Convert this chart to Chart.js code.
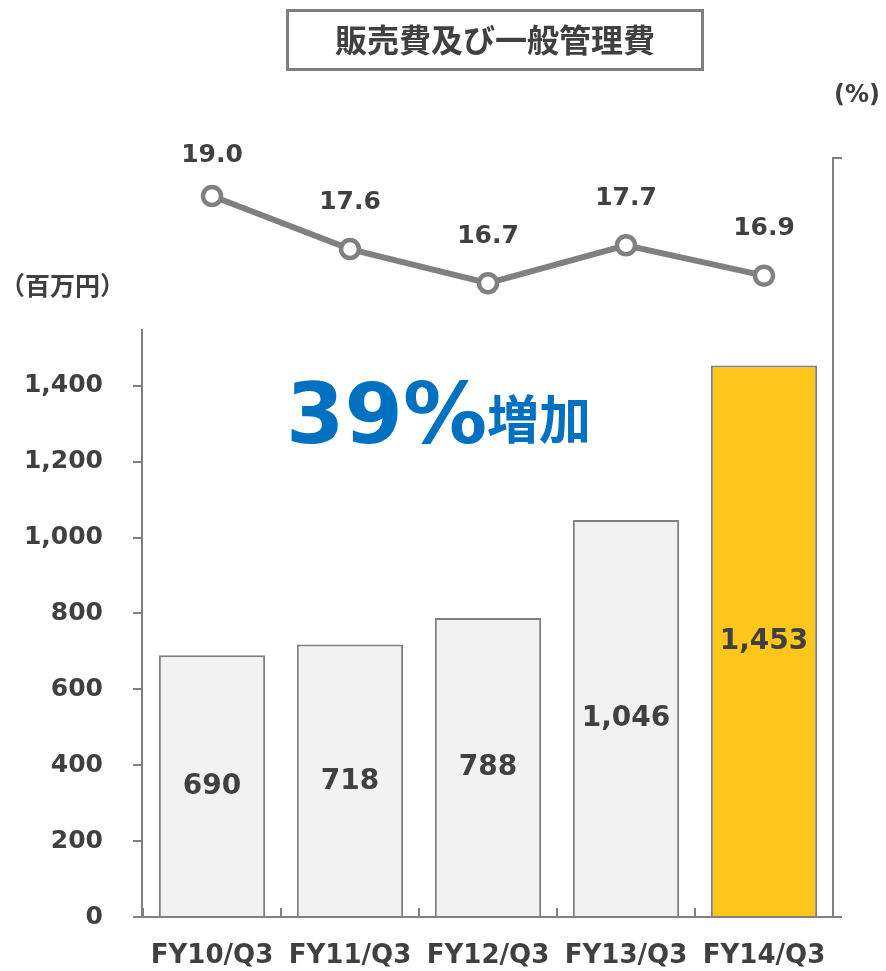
<!DOCTYPE html>
<html>
<head>
<meta charset="utf-8">
<script src="https://cdn.jsdelivr.net/npm/chart.js@4.4.1/dist/chart.umd.min.js"></script>
<style>
  html, body { margin: 0; padding: 0; background: #ffffff; }
  #wrap { position: relative; width: 886px; height: 971px; }
</style>
</head>
<body>
<div id="wrap"><canvas id="c"></canvas></div>
<script>
// ---- data ----
const categories = ['FY10/Q3', 'FY11/Q3', 'FY12/Q3', 'FY13/Q3', 'FY14/Q3'];
const sgaValues = [690, 718, 788, 1046, 1453];          // 百万円
const ratioValues = [19.0, 17.6, 16.7, 17.7, 16.9];     // %
const leftTicks = [0, 200, 400, 600, 800, 1000, 1200, 1400];
const titleText = '販売費及び一般管理費';
const leftUnit = '（百万円）';
const rightUnit = '(%)';
const growthNumber = '39%';
const growthWord = '増加';

const TEXT = '#404040';
const AXIS = '#808080';
const LATIN = '"DejaVu Sans", Verdana, sans-serif';
const CJK = '"Noto Sans CJK JP", "Noto Sans", sans-serif';

const barColors = sgaValues.map((v, i) => i === sgaValues.length - 1 ? '#FFC61B' : '#F2F2F2');

const fmt = v => Number(v).toLocaleString('en-US');

const decorPlugin = {
  id: 'decor',
  afterDraw(chart) {
    const ctx = chart.ctx;
    const yL = chart.scales.y;
    ctx.save();
    // left axis line (drawn only up to 1550)
    ctx.strokeStyle = AXIS;
    ctx.lineWidth = 2;
    ctx.beginPath();
    const ax = Math.round(yL.right) - 1;
    ctx.moveTo(ax, yL.getPixelForValue(0) + 1);
    ctx.lineTo(ax, yL.getPixelForValue(1550));
    ctx.stroke();

    // bar value labels
    const barMeta = chart.getDatasetMeta(0);
    ctx.fillStyle = TEXT;
    ctx.textAlign = 'center';
    ctx.textBaseline = 'middle';
    ctx.font = 'bold 28px ' + LATIN;
    barMeta.data.forEach((el, i) => {
      ctx.fillText(fmt(sgaValues[i]), el.x, (el.y + el.base) / 2 + 1);
    });
    // line value labels
    const lineMeta = chart.getDatasetMeta(1);
    ctx.font = 'bold 25px ' + LATIN;
    lineMeta.data.forEach((el, i) => {
      ctx.fillText(ratioValues[i].toFixed(1), el.x, el.y - (i === 0 ? 40 : 47));
    });

    // title box
    ctx.lineWidth = 3;
    ctx.strokeStyle = '#7F7F7F';
    ctx.strokeRect(287.5, 10.5, 415, 59);
    ctx.font = 'bold 32px ' + CJK;
    ctx.fillStyle = TEXT;
    ctx.fillText(titleText, 495, 40);

    // units
    ctx.textAlign = 'left';
    ctx.font = 'bold 25px ' + CJK;
    ctx.fillText(leftUnit, 0, 285);
    ctx.font = 'bold 24px ' + LATIN;
    ctx.fillText(rightUnit, 834, 96);

    // growth annotation
    ctx.textBaseline = 'alphabetic';
    ctx.fillStyle = '#0070C0';
    ctx.font = 'bold 84px ' + LATIN;
    ctx.fillText(growthNumber, 286, 443);
    const w = ctx.measureText(growthNumber).width;
    ctx.font = 'bold 52px ' + CJK;
    ctx.fillText(growthWord, 286 + w, 439);
    ctx.restore();
  }
};

new Chart(document.getElementById('c'), {
  data: {
    labels: categories,
    datasets: [
      {
        type: 'bar',
        label: '販売費及び一般管理費',
        data: sgaValues,
        backgroundColor: barColors,
        borderColor: AXIS,
        borderWidth: 2,
        borderSkipped: 'bottom',
        categoryPercentage: 1.0,
        barPercentage: 0.77,
        yAxisID: 'y',
        order: 2
      },
      {
        type: 'line',
        label: '売上高比率',
        data: ratioValues,
        borderColor: AXIS,
        borderWidth: 6,
        pointRadius: 9,
        pointBorderWidth: 4.5,
        pointBackgroundColor: '#ffffff',
        pointBorderColor: AXIS,
        tension: 0,
        yAxisID: 'y1',
        order: 1
      }
    ]
  },
  options: {
    responsive: true,
    maintainAspectRatio: false,
    animation: false,
    layout: { padding: { top: 158, left: 0, right: 0, bottom: 0 } },
    plugins: { legend: { display: false }, tooltip: { enabled: false }, title: { display: false } },
    scales: {
      x: {
        offset: true,
        grid: { offset: true, drawOnChartArea: false, drawTicks: true, tickLength: -9, color: AXIS, lineWidth: 2 },
        border: { display: true, color: AXIS, width: 2 },
        ticks: { color: TEXT, font: { family: LATIN, size: 26, weight: 'bold' }, padding: 33, maxRotation: 0, autoSkip: false },
        afterFit: s => { s.height = 54; }
      },
      y: {
        position: 'left',
        min: 0,
        max: 2000,
        ticks: { stepSize: 200, color: TEXT, font: { family: LATIN, size: 25, weight: 'bold' }, padding: 30, callback: v => fmt(v) },
        afterBuildTicks: s => { s.ticks = leftTicks.map(v => ({ value: v })); },
        grid: { drawOnChartArea: false, drawTicks: true, tickLength: 10, color: AXIS, lineWidth: 2 },
        border: { display: false },
        afterFit: s => { s.width = 143; }
      },
      y1: {
        position: 'right',
        min: 0,
        max: 20,
        ticks: { stepSize: 20, callback: () => '', padding: 0 },
        grid: { drawOnChartArea: false, drawTicks: true, tickLength: 9, color: AXIS, lineWidth: 2 },
        border: { display: true, color: AXIS, width: 2 },
        afterFit: s => { s.width = 53; }
      }
    }
  },
  plugins: [decorPlugin]
});
</script>
</body>
</html>
